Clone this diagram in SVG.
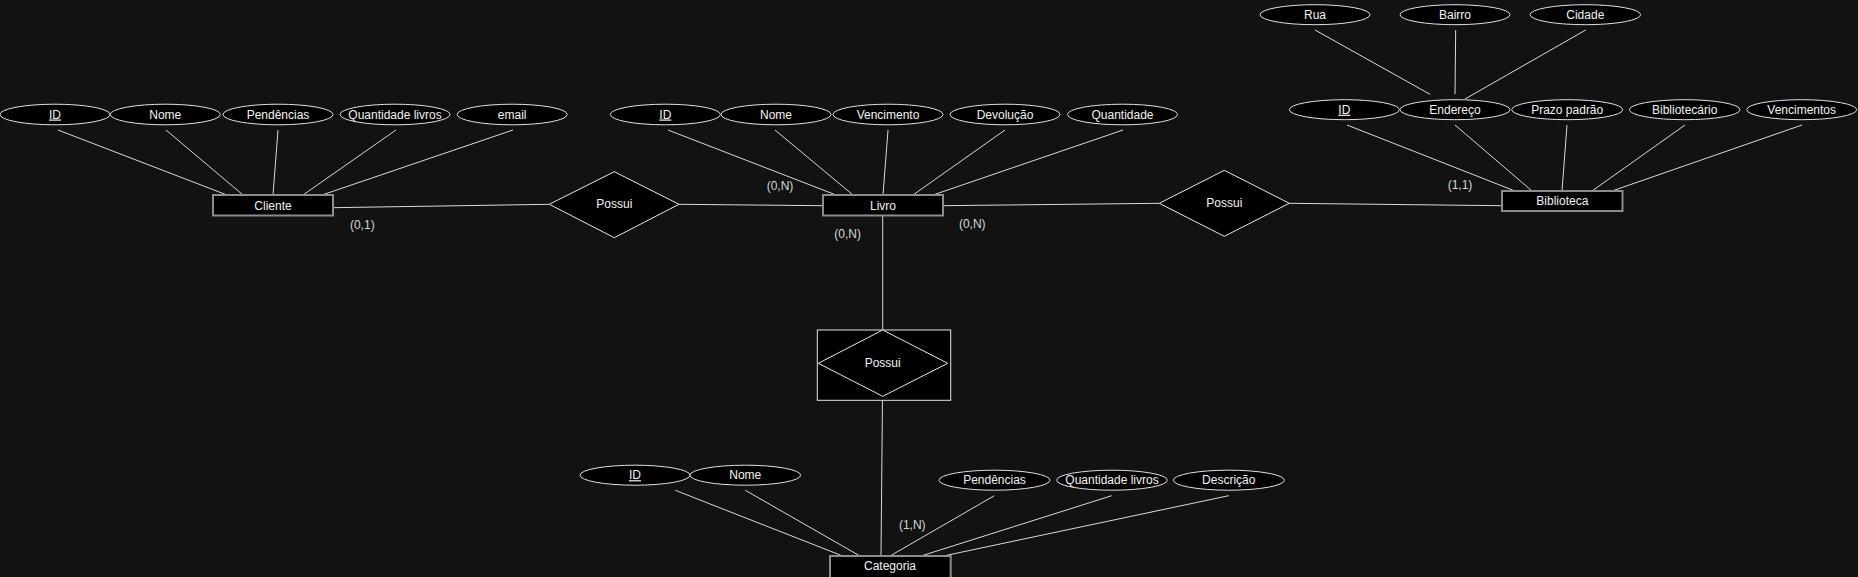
<svg xmlns="http://www.w3.org/2000/svg" width="1858" height="577" viewBox="0 0 1858 577">
<style>
.bg{fill:#121212}
.attr{fill:#000;stroke:#e0e0e0;stroke-width:1}
.ent{fill:#000;stroke:#8c8c8c;stroke-width:2}
.rel{fill:#000;stroke:#e6e6e6;stroke-width:1}
.t{font-family:"Liberation Sans",Arial,Helvetica,sans-serif;font-size:12px;fill:#f2f2f2;text-anchor:middle}
.u{text-decoration:underline}
.card{font-family:"Liberation Sans",Arial,Helvetica,sans-serif;font-size:12px;fill:#d6d6d6;text-anchor:middle}
.c line,.c polyline{stroke:#d9d9d9;stroke-width:1;fill:none}
</style>
<rect class="bg" x="0" y="0" width="1858" height="577"/>

<g id="connectors" class="c">
  <!-- Cliente attributes -->
  <line x1="58" y1="130" x2="227" y2="195"/>
  <line x1="166" y1="130" x2="243" y2="195"/>
  <line x1="278" y1="130" x2="273" y2="195"/>
  <line x1="396" y1="130" x2="303" y2="195"/>
  <line x1="513" y1="130" x2="322" y2="195"/>
  <!-- Cliente - Possui - Livro -->
  <line x1="333" y1="207.7" x2="549.3" y2="204.3"/>
  <line x1="679" y1="204.3" x2="823" y2="205.7"/>
  <!-- Livro attributes -->
  <line x1="668" y1="130" x2="836" y2="195"/>
  <line x1="775" y1="130" x2="853" y2="195"/>
  <line x1="888" y1="130" x2="883" y2="195"/>
  <line x1="1005" y1="130" x2="913" y2="195"/>
  <line x1="1123" y1="130" x2="933" y2="195"/>
  <!-- Livro - Possui - Biblioteca -->
  <line x1="943" y1="205.7" x2="1159.3" y2="203.3"/>
  <line x1="1289.3" y1="203.3" x2="1502" y2="205.7"/>
  <!-- Endereco sub-attributes -->
  <line x1="1315" y1="30" x2="1430" y2="94.3"/>
  <line x1="1455.7" y1="30" x2="1455" y2="94.3"/>
  <line x1="1585.7" y1="30" x2="1465" y2="99"/>
  <!-- Biblioteca attributes -->
  <line x1="1347" y1="125" x2="1515" y2="191"/>
  <line x1="1455" y1="125" x2="1532" y2="191"/>
  <line x1="1567" y1="125" x2="1562" y2="191"/>
  <line x1="1685" y1="125" x2="1592" y2="191"/>
  <line x1="1802" y1="125" x2="1612" y2="191"/>
  <!-- Livro - Possui - Categoria -->
  <line x1="882.7" y1="215.7" x2="882.7" y2="330"/>
  <line x1="882.5" y1="396.3" x2="881" y2="556"/>
  <!-- Categoria attributes -->
  <line x1="675.3" y1="490.3" x2="842.7" y2="556"/>
  <line x1="745.3" y1="490.3" x2="860" y2="556"/>
  <line x1="994.3" y1="495.7" x2="890" y2="556"/>
  <line x1="1111.7" y1="495.7" x2="921" y2="556"/>
  <line x1="1228.7" y1="495.7" x2="943.3" y2="556"/>
</g>

<g id="cardinalities">
  <text class="card" x="362.3" y="229">(0,1)</text>
  <text class="card" x="780" y="190">(0,N)</text>
  <text class="card" x="847.7" y="237.5">(0,N)</text>
  <text class="card" x="972.3" y="228">(0,N)</text>
  <text class="card" x="1460" y="189">(1,1)</text>
  <text class="card" x="912.3" y="529">(1,N)</text>
</g>

<!-- Cliente -->
<g id="cliente">
  <rect class="ent" x="213" y="195" width="120" height="20.5"/>
  <text class="t" x="273" y="209.5">Cliente</text>
</g>
<g id="cliente-id"><ellipse class="attr" cx="55" cy="114.5" rx="55" ry="10.3"/><text class="t u" x="55" y="118.5">ID</text></g>
<g id="cliente-nome"><ellipse class="attr" cx="165.3" cy="114.5" rx="55" ry="10.3"/><text class="t" x="165.3" y="118.5">Nome</text></g>
<g id="cliente-pendencias"><ellipse class="attr" cx="278" cy="114.5" rx="55" ry="10.3"/><text class="t" x="278" y="118.5">Pendências</text></g>
<g id="cliente-qtd"><ellipse class="attr" cx="395" cy="114.5" rx="55" ry="10.3"/><text class="t" x="395" y="118.5">Quantidade livros</text></g>
<g id="cliente-email"><ellipse class="attr" cx="512.2" cy="114.5" rx="55" ry="10.3"/><text class="t" x="512.2" y="118.5">email</text></g>

<!-- Possui (Cliente-Livro) -->
<g id="possui-1">
  <polygon class="rel" points="549.3,204.3 614.3,171.7 679,204.3 614.3,237.7"/>
  <text class="t" x="614.3" y="208.3">Possui</text>
</g>

<!-- Livro -->
<g id="livro">
  <rect class="ent" x="823" y="195" width="120" height="20.5"/>
  <text class="t" x="883" y="209.5">Livro</text>
</g>
<g id="livro-id"><ellipse class="attr" cx="665.3" cy="114.5" rx="55" ry="10.3"/><text class="t u" x="665.3" y="118.5">ID</text></g>
<g id="livro-nome"><ellipse class="attr" cx="776" cy="114.5" rx="55" ry="10.3"/><text class="t" x="776" y="118.5">Nome</text></g>
<g id="livro-vencimento"><ellipse class="attr" cx="888" cy="114.5" rx="55" ry="10.3"/><text class="t" x="888" y="118.5">Vencimento</text></g>
<g id="livro-devolucao"><ellipse class="attr" cx="1005" cy="114.5" rx="55" ry="10.3"/><text class="t" x="1005" y="118.5">Devolução</text></g>
<g id="livro-quantidade"><ellipse class="attr" cx="1122.5" cy="114.5" rx="55" ry="10.3"/><text class="t" x="1122.5" y="118.5">Quantidade</text></g>

<!-- Possui (Livro-Biblioteca) -->
<g id="possui-2">
  <polygon class="rel" points="1159.3,203.3 1224.3,170.3 1289.3,203.3 1224.3,236.3"/>
  <text class="t" x="1224.3" y="207.3">Possui</text>
</g>

<!-- Biblioteca -->
<g id="biblioteca">
  <rect class="ent" x="1502" y="191" width="120.5" height="20"/>
  <text class="t" x="1562.3" y="205">Biblioteca</text>
</g>
<g id="bib-id"><ellipse class="attr" cx="1344.3" cy="109.7" rx="55" ry="10"/><text class="t u" x="1344.3" y="113.7">ID</text></g>
<g id="bib-endereco"><ellipse class="attr" cx="1455" cy="109.7" rx="55" ry="10"/><text class="t" x="1455" y="113.7">Endereço</text></g>
<g id="bib-prazo"><ellipse class="attr" cx="1567.2" cy="109.7" rx="55.5" ry="10"/><text class="t" x="1567.2" y="113.7">Prazo padrão</text></g>
<g id="bib-bibliotecario"><ellipse class="attr" cx="1684.7" cy="109.7" rx="55.3" ry="10"/><text class="t" x="1684.7" y="113.7">Bibliotecário</text></g>
<g id="bib-vencimentos"><ellipse class="attr" cx="1801.7" cy="109.7" rx="55" ry="10"/><text class="t" x="1801.7" y="113.7">Vencimentos</text></g>
<g id="end-rua"><ellipse class="attr" cx="1315" cy="14.7" rx="55" ry="10"/><text class="t" x="1315" y="18.7">Rua</text></g>
<g id="end-bairro"><ellipse class="attr" cx="1455" cy="14.7" rx="55" ry="10"/><text class="t" x="1455" y="18.7">Bairro</text></g>
<g id="end-cidade"><ellipse class="attr" cx="1585.3" cy="14.7" rx="55.3" ry="10"/><text class="t" x="1585.3" y="18.7">Cidade</text></g>

<!-- Possui (Livro-Categoria), associative -->
<g id="possui-3">
  <rect class="rel" x="817.3" y="330" width="133.4" height="70.3"/>
  <polygon class="rel" points="818.3,363.3 882.7,330 947.7,363.3 882.7,396.3"/>
  <text class="t" x="882.7" y="366.7">Possui</text>
</g>

<!-- Categoria -->
<g id="categoria">
  <rect class="ent" x="830" y="556" width="120.7" height="22"/>
  <text class="t" x="890" y="570">Categoria</text>
</g>
<g id="cat-id"><ellipse class="attr" cx="635" cy="475.2" rx="55" ry="10"/><text class="t u" x="635" y="479.2">ID</text></g>
<g id="cat-nome"><ellipse class="attr" cx="745.3" cy="475.2" rx="55.3" ry="10"/><text class="t" x="745.3" y="479.2">Nome</text></g>
<g id="cat-pendencias"><ellipse class="attr" cx="994.5" cy="480.2" rx="55.5" ry="10"/><text class="t" x="994.5" y="484.2">Pendências</text></g>
<g id="cat-qtd"><ellipse class="attr" cx="1112" cy="480.2" rx="55.3" ry="10"/><text class="t" x="1112" y="484.2">Quantidade livros</text></g>
<g id="cat-descricao"><ellipse class="attr" cx="1228.8" cy="480.2" rx="55.5" ry="10"/><text class="t" x="1228.8" y="484.2">Descrição</text></g>
</svg>
